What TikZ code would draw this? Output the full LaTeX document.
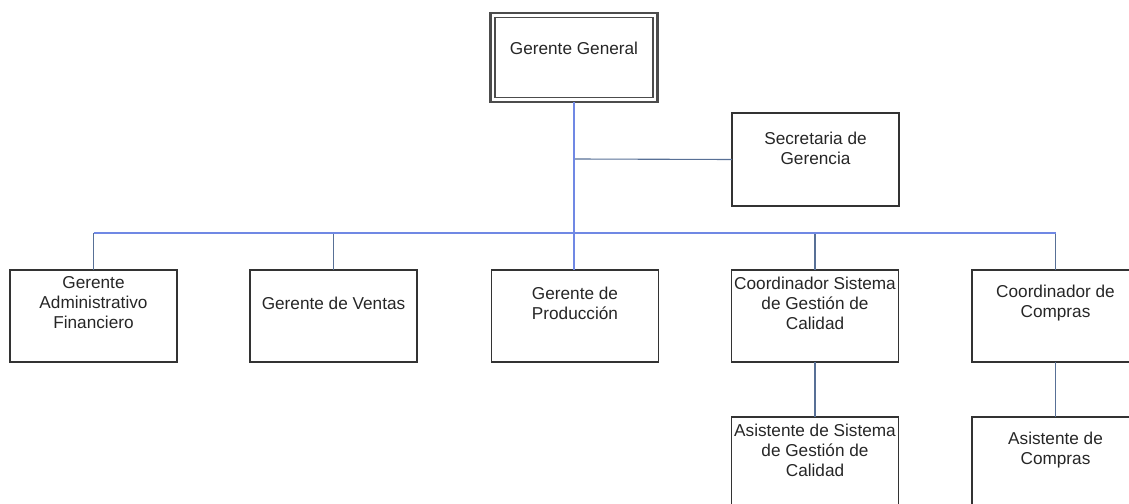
\documentclass[tikz,border=0pt]{standalone}
\usepackage{fontspec}
\setmainfont{Liberation Sans}
\begin{document}
\begin{tikzpicture}[x=1bp,y=-1bp,
  every node/.style={inner sep=0pt, outer sep=0pt},
  unitbox/.style={draw=black!80, line width=1.2bp, rectangle,
    minimum width=167bp, minimum height=92bp},
  unittext/.style={align=center, font=\fontsize{17.2bp}{20bp}\selectfont, text=black!85},
  trunk/.style={draw={rgb,255:red,112;green,136;blue,228}, line width=2bp},
  branch/.style={draw={rgb,255:red,88;green,112;blue,150}, line width=1.1bp}]
\useasboundingbox (0,0) rectangle (1129,504);
\clip (0,0) rectangle (1129,504);

% General manager (double frame)
\node[draw=black!70, line width=2.6bp, minimum width=167bp, minimum height=89bp] (gg) at (574,57.5) {};
\draw[black!70, line width=1.4bp] ([shift={(4.5bp,-4.5bp)}]gg.north west) rectangle ([shift={(-4.5bp,4.5bp)}]gg.south east);
\node[unittext] (ggt) at ([yshift=-35bp]gg.north) {Gerente General};

% Secretary
\node[unitbox, minimum height=93bp] (sec) at (815.5,159.5) {};
\node[unittext] (sect) at ([yshift=-35bp]sec.north) {Secretaria de\\Gerencia};

% First level
\node[unitbox] (adm) at (93.5,316) {};
\node[unitbox] (ven) at (333.5,316) {};
\node[unitbox] (pro) at (575,316) {};
\node[unitbox] (sgc) at (815,316) {};
\node[unitbox] (com) at (1055.5,316) {};
\node[unittext] (admt) at ([yshift=-33bp]adm.north) {Gerente\\Administrativo\\Financiero};
\node[unittext] (vent) at ([yshift=-33bp]ven.north) {Gerente de Ventas};
\node[unittext] (prot) at ([yshift=-33bp]pro.north) {Gerente de\\Producción};
\node[unittext] (sgct) at ([yshift=-33bp]sgc.north) {Coordinador Sistema\\de Gestión de\\Calidad};
\node[unittext] (comt) at ([yshift=-33bp]com.north) {Coordinador de\\Compras};

% Second level
\node[unitbox] (asgc) at (815,463) {};
\node[unitbox] (acom) at (1055.5,463) {};
\node[unittext] (asgct) at ([yshift=-33bp]asgc.north) {Asistente de Sistema\\de Gestión de\\Calidad};
\node[unittext] (acomt) at ([yshift=-33bp]acom.north) {Asistente de\\Compras};

% Connectors
\coordinate (bus) at (574,233);
\coordinate (secj) at (574,159);
\draw[branch] (secj) -- (sec.west);
\draw[branch] (bus -| adm.north) -- (adm.north);
\draw[branch] (bus -| ven.north) -- (ven.north);
\draw[branch] (bus -| sgc.north) -- (sgc.north);
\draw[branch] (bus -| com.north) -- (com.north);
\draw[trunk] (bus -| adm.north) -- (bus -| com.north);
\draw[trunk] (gg.south) -- (gg.south |- pro.north);
\draw[branch] (sgc.south) -- (asgc.north);
\draw[branch] (com.south) -- (acom.north);
\end{tikzpicture}
\end{document}
